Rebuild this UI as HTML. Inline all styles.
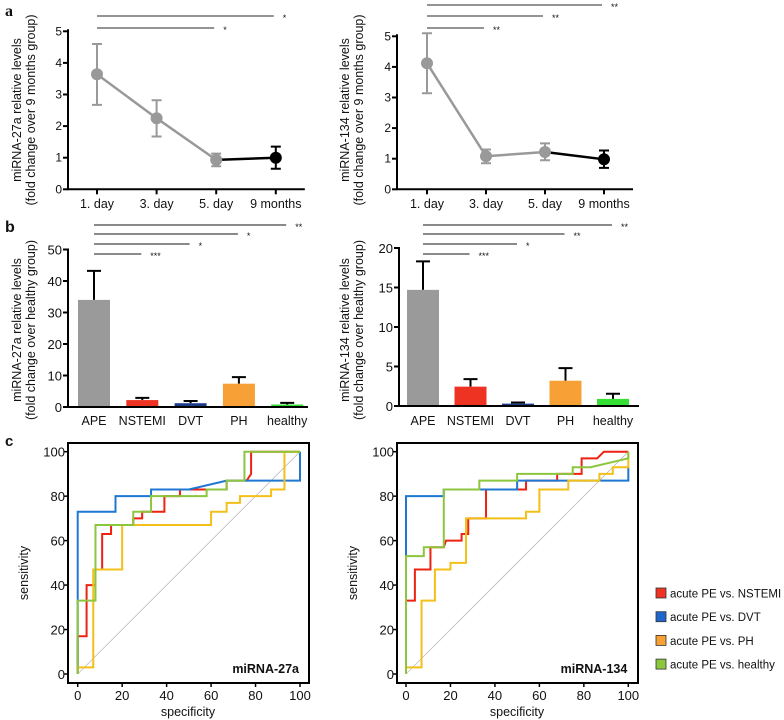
<!DOCTYPE html>
<html><head><meta charset="utf-8"><style>
html,body{margin:0;padding:0;background:#fff}
svg{display:block;font-family:"Liberation Sans",sans-serif}
</style></head><body>
<svg id="fig" width="784" height="720" viewBox="0 0 784 720"></svg>
<script>
// ---------- data ----------
const timeCats = ["1. day","3. day","5. day","9 months"];
const a27Mean = [3.64, 2.25, 0.93, 1.0];
const a27Up   = [4.6, 2.82, 1.13, 1.35];
const a27Lo   = [2.67, 1.67, 0.73, 0.65];
const a134Mean = [4.12, 1.08, 1.22, 0.98];
const a134Up   = [5.1, 1.3, 1.5, 1.27];
const a134Lo   = [3.14, 0.85, 0.95, 0.7];
const aTicks = [0,1,2,3,4,5];
const groupCats = ["APE","NSTEMI","DVT","PH","healthy"];
const b27Vals = [34, 2.2, 1.2, 7.4, 0.8];
const b27Err  = [43.2, 2.9, 1.9, 9.5, 1.3];
const b134Vals = [14.7, 2.45, 0.3, 3.2, 0.9];
const b134Err  = [18.3, 3.4, 0.45, 4.8, 1.55];
const b27Ticks = [0,10,20,30,40,50];
const b134Ticks = [0,5,10,15,20];
const a27Sig = [[3,"*"],[2,"*"]];
const a134Sig = [[3,"**"],[2,"**"],[1,"**"]];
const b27Sig = [[4,"**"],[3,"*"],[2,"*"],[1,"***"]];
const b134Sig = [[4,"**"],[3,"**"],[2,"*"],[1,"***"]];
const rocTicks = [0,20,40,60,80,100];
const rocNames = ["acute PE vs. NSTEMI","acute PE vs. DVT","acute PE vs. PH","acute PE vs. healthy"];
const roc27Red = [[0,0],[0,17],[4,17],[4,40],[8,40],[8,47],[11,47],[11,63],[15,63],[15,67],[25,67],[25,70],[29,70],[29,73],[39,73],[39,80],[46,80],[46,83],[67,83],[67,87],[76,87],[78,90],[78,100],[100,100]];
const roc27Blue = [[0,0],[0,73],[17,73],[17,80],[33,80],[33,83],[50,83],[67,87],[100,87],[100,100]];
const roc27Yellow = [[0,0],[0,3],[7,3],[7,47],[20,47],[20,67],[60,67],[60,73],[67,73],[67,77],[73,77],[73,80],[87,80],[87,83],[93,83],[93,100],[100,100]];
const roc27Green = [[0,0],[0,33],[8,33],[8,67],[25,67],[25,73],[33,73],[33,80],[58,80],[58,83],[67,83],[67,87],[75,87],[75,100],[100,100]];
const roc134Red = [[0,0],[0,33],[4,33],[4,47],[11,47],[11,57],[17,57],[18,60],[25,60],[25,63],[28,63],[28,70],[36,70],[36,83],[54,83],[54,87],[68,87],[68,90],[79,90],[79,97],[86,97],[89,100],[100,100]];
const roc134Blue = [[0,0],[0,53],[0,80],[17,80],[17,83],[50,83],[50,87],[100,87],[100,93]];
const roc134Yellow = [[0,0],[0,3],[7,3],[7,33],[13,33],[13,47],[20,47],[20,50],[27,50],[27,70],[54,70],[54,73],[60,73],[60,83],[73,83],[73,87],[87,87],[87,90],[93,90],[93,93],[100,93],[100,100]];
const roc134Green = [[0,0],[0,53],[8,53],[8,57],[17,57],[17,83],[33,83],[33,87],[50,87],[50,90],[75,90],[75,93],[83,93],[100,97],[100,100]];
const rocColors = ["#ee2211","#1f77d4","#f2c018","#8cc63e"];
const barColors = ["#9a9a9a","#ee3322","#1a3a8a","#f7a035","#33e033"];

// ---------- helpers ----------
const NS="http://www.w3.org/2000/svg";
const svg=document.getElementById('fig');
function mk(tag,attrs,parent){const e=document.createElementNS(NS,tag);for(const k in attrs)e.setAttribute(k,attrs[k]);(parent||svg).appendChild(e);return e;}
function txt(s,x,y,size,anchor,parent,extra){const e=mk('text',Object.assign({x:x,y:y,'font-size':size,'text-anchor':anchor||'middle',fill:'#111'},extra||{}),parent);e.textContent=s;return e;}

// panel letters
let L=txt("a",5,16,16,'start',null,{'font-weight':'bold','font-family':'Liberation Serif'});


L=txt("b",5,232,16,'start',null,{'font-weight':'bold'});


L=txt("c",5,446,15,'start',null,{'font-weight':'bold'});



function yTitle(l1,l2,x,yc,name){
  const g=mk('g',{});
  
  
  txt(l1,0,0,12.5,'middle',g,{transform:`translate(${x},${yc}) rotate(-90)`});
  txt(l2,0,0,12.5,'middle',g,{transform:`translate(${x+14},${yc}) rotate(-90)`});
}

// ---------- panel a ----------
function panelA(ax,y0,ppu,x1,dx,mean,up,lo,sig,sigY,name){
  const g=mk('g',{});
  
  
  const X=i=>x1+i*dx, Y=v=>y0-v*ppu;
  mk('line',{x1:ax,y1:Y(5)-2,x2:ax,y2:y0,stroke:'#000','stroke-width':2},g);
  mk('line',{x1:ax-1,y1:y0,x2:X(3)+29,y2:y0,stroke:'#000','stroke-width':2},g);
  aTicks.forEach(t=>{mk('line',{x1:ax-5,y1:Y(t),x2:ax,y2:Y(t),stroke:'#000','stroke-width':2},g);txt(String(t),ax-6,Y(t)+4,12,'end',g);});
  timeCats.forEach((c,i)=>{mk('line',{x1:X(i),y1:y0,x2:X(i),y2:y0+5,stroke:'#000','stroke-width':2},g);const t=txt(c,X(i),208,12.5,'middle',g);
    
    });
  for(let i=0;i<2;i++) mk('line',{x1:X(i),y1:Y(mean[i]),x2:X(i+1),y2:Y(mean[i+1]),stroke:'#999','stroke-width':2.5},g);
  mk('line',{x1:X(2),y1:Y(mean[2]),x2:X(3),y2:Y(mean[3]),stroke:'#000','stroke-width':2.5},g);
  mean.forEach((m,i)=>{
    const col=i===3?'#000':'#999';
    const eb=mk('path',{d:`M${X(i)-5},${Y(up[i])}H${X(i)+5}M${X(i)},${Y(up[i])}V${Y(lo[i])}M${X(i)-5},${Y(lo[i])}H${X(i)+5}`,stroke:col,'stroke-width':2,fill:'none'},g);
    
    
    const p=mk('circle',{cx:X(i),cy:Y(m),r:6,fill:col},g);
    
    
  });
  sig.forEach((s,k)=>{const y=sigY[k];
    const ln=mk('line',{x1:X(0),y1:y,x2:X(s[0])-2,y2:y,stroke:'#555','stroke-width':1.2},g);
    
    
    txt(s[1],X(s[0])+7,y+5,9,'start',g);});
}
panelA(68,189.3,31.6,97,59.6,a27Mean,a27Up,a27Lo,a27Sig,[16,28],'chart-a-mirna27a');
panelA(397,189.3,30.6,427,59,a134Mean,a134Up,a134Lo,a134Sig,[5,16,28],'chart-a-mirna134');
yTitle("miRNA-27a relative levels","(fold change over 9 months group)",21,110,'y-axis-title-a-27a');
yTitle("miRNA-134 relative levels","(fold change over 9 months group)",349,110,'y-axis-title-a-134');

// ---------- panel b ----------
function panelB(ax,y0,ppu,x1,dx,vals,errs,ticks,sig,name){
  const g=mk('g',{});
  
  
  const X=i=>x1+i*dx, Y=v=>y0-v*ppu, top=ticks[ticks.length-1];
  vals.forEach((v,i)=>{
    const eb=mk('path',{d:`M${X(i)},${Y(v)}V${Y(errs[i])}M${X(i)-7},${Y(errs[i])}H${X(i)+7}`,stroke:'#000','stroke-width':2,fill:'none'},g);
    
    
    const r=mk('rect',{x:X(i)-16,y:Y(v),width:32,height:Math.max(0,y0-Y(v)),fill:barColors[i]},g);
    
    
  });
  mk('line',{x1:ax,y1:Y(top)-1,x2:ax,y2:y0,stroke:'#000','stroke-width':2},g);
  mk('line',{x1:ax-1,y1:y0,x2:ax+240,y2:y0,stroke:'#000','stroke-width':2},g);
  ticks.forEach(t=>{mk('line',{x1:ax-5,y1:Y(t),x2:ax,y2:Y(t),stroke:'#000','stroke-width':2},g);txt(String(t),ax-6,Y(t)+5,13,'end',g);});
  groupCats.forEach((c,i)=>{const t=txt(c,X(i),425,12.5,'middle',g);
    
    });
  const sy=[225,234,244,254];
  sig.forEach((s,k)=>{const y=sy[k];
    const ln=mk('line',{x1:X(0),y1:y,x2:X(s[0])-1,y2:y,stroke:'#444','stroke-width':1.2},g);
    
    
    txt(s[1],X(s[0])+8,y+5,9,'start',g);});
}
panelB(68,407,3.15,94,48.3,b27Vals,b27Err,b27Ticks,b27Sig,'chart-b-mirna27a');
panelB(399,406,7.9,423,47.5,b134Vals,b134Err,b134Ticks,b134Sig,'chart-b-mirna134');
yTitle("miRNA-27a relative levels","(fold change over healthy group)",21,330,'y-axis-title-b-27a');
yTitle("miRNA-134 relative levels","(fold change over healthy group)",349,330,'y-axis-title-b-134');

// ---------- panel c ----------
function panelC(bx,x0,series,label,name){
  const g=mk('g',{});
  
  
  const ppu=2.223, y0=674, X=v=>x0+v*ppu, Y=v=>y0-v*ppu;
  mk('line',{x1:X(0),y1:Y(0),x2:X(100),y2:Y(100),stroke:'#bbb','stroke-width':0.8},g);
  series.forEach((s,k)=>{
    const p=mk('polyline',{points:s.map(d=>X(d[0])+','+Y(d[1])).join(' '),fill:'none',stroke:rocColors[k],'stroke-width':2},g);
    
    
  });
  mk('rect',{x:bx,y:443,width:241,height:240,fill:'none',stroke:'#000','stroke-width':2},g);
  rocTicks.forEach(t=>{
    mk('line',{x1:bx-4,y1:Y(t),x2:bx,y2:Y(t),stroke:'#000','stroke-width':1.5},g);
    txt(String(t),bx-3,Y(t)+5,13,'end',g);
    mk('line',{x1:X(t),y1:683,x2:X(t),y2:687,stroke:'#000','stroke-width':1.5},g);
    txt(String(t),X(t),700,13,'middle',g);
  });
  const xt=txt("specificity",bx+120,716,12.5,'middle',g);
  
  
  const yt=txt("sensitivity",0,0,12.5,'middle',g,{transform:`translate(${bx-40},${573}) rotate(-90)`});
  
  
  const lb=txt(label,X(100)-1,673,12.5,'end',g,{'font-weight':'bold'});
  
  
}
panelC(68,77.7,[roc27Red,roc27Blue,roc27Yellow,roc27Green],"miRNA-27a",'chart-c-mirna27a');
panelC(397,406,[roc134Red,roc134Blue,roc134Yellow,roc134Green],"miRNA-134",'chart-c-mirna134');

// legend
const lg=mk('g',{});


const legendFill=["#ee3322","#1f66cc","#f7a035","#8cc63e"];
rocNames.forEach((n,k)=>{
  const y=593+k*23.7;
  const e=mk('g',{},lg);
  
  
  mk('rect',{x:656,y:y-5,width:10,height:10,fill:legendFill[k],stroke:'#333','stroke-width':0.8},e);
  txt(n,670,y+4.5,11.5,'start',e);
});
</script>
</body></html>
